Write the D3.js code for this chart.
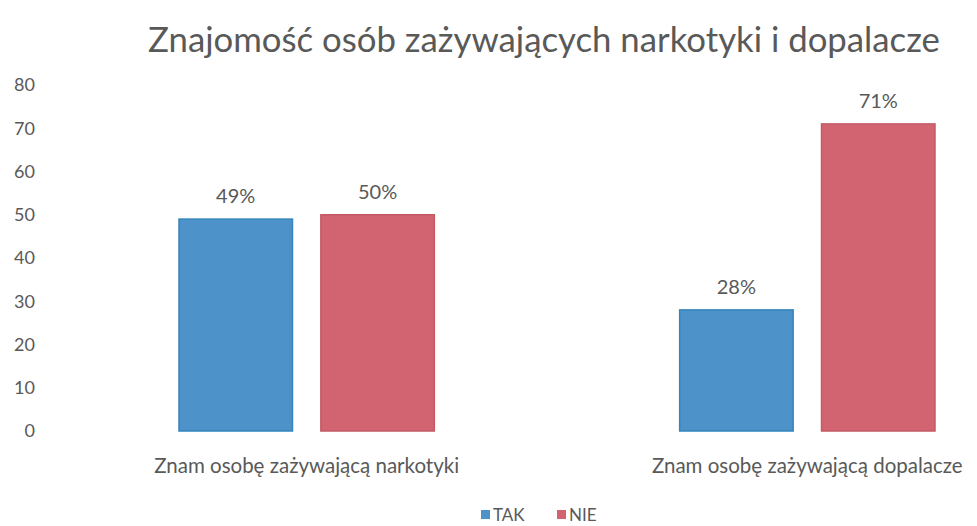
<!DOCTYPE html>
<html>
<head>
<meta charset="utf-8">
<script src="https://cdn.jsdelivr.net/npm/d3@7"></script>
<style>
  body { margin: 0; background: #fff; }
  text { font-family: Lato, "Open Sans", sans-serif; fill: #595959; }
</style>
</head>
<body>
<svg id="chart" width="977" height="526"></svg>
<script>
// data
const categories = ["Znam osobę zażywającą narkotyki", "Znam osobę zażywającą dopalacze"];
const seriesNames = ["TAK", "NIE"];
const tak = [49, 28];
const nie = [50, 71];
const yTicks = [0, 10, 20, 30, 40, 50, 60, 70, 80];
const title = "Znajomość osób zażywających narkotyki i dopalacze";

const colors = { TAK: "#4d93c9", NIE: "#d16470" };
const strokes = { TAK: "#3584bd", NIE: "#c45a66" };

const svg = d3.select("#chart");

const rows = categories.map((c, i) => ({ cat: c, TAK: tak[i], NIE: nie[i] }));

const y = d3.scaleLinear().domain([0, 80]).range([431, 85]);

const x0 = d3.scaleBand()
  .domain(categories)
  .range([179, 935])
  .paddingInner(0.49)
  .paddingOuter(0);

const x1 = d3.scaleBand()
  .domain(seriesNames)
  .range([0, x0.bandwidth()])
  .paddingInner(0.2)
  .paddingOuter(0);

// fit a text node to a target width (Calibri is narrower than what we have)
function fit(sel, base, target) {
  const w = sel.node().getComputedTextLength();
  sel.style("font-size", (base * target / w).toFixed(2) + "px");
}

// title
const t = svg.append("text")
  .attr("x", 544)
  .attr("y", 52)
  .attr("text-anchor", "middle")
  .style("font-size", "30px")
  .text(title);
fit(t, 30, 792);

// y axis labels, no line
const yAxis = d3.axisLeft(y).tickValues(yTicks).tickSize(0).tickPadding(0);
const ya = svg.append("g").attr("transform", "translate(35,0)").call(yAxis);
ya.select(".domain").remove();
ya.selectAll("text")
  .style("font-size", "18px")
  .style("font-family", "Lato, sans-serif")
  .attr("fill", "#595959");

// bars
const groups = svg.append("g").selectAll("g")
  .data(rows)
  .join("g")
  .attr("transform", d => `translate(${x0(d.cat)},0)`);

groups.selectAll("rect")
  .data(d => seriesNames.map(k => ({ key: k, value: d[k] })))
  .join("rect")
  .attr("x", d => x1(d.key))
  .attr("y", d => y(d.value))
  .attr("width", x1.bandwidth())
  .attr("height", d => y(0) - y(d.value))
  .attr("fill", d => colors[d.key])
  .attr("stroke", d => strokes[d.key])
  .attr("stroke-width", 1.5);

groups.selectAll("text.val")
  .data(d => seriesNames.map(k => ({ key: k, value: d[k] })))
  .join("text")
  .attr("class", "val")
  .attr("x", d => x1(d.key) + x1.bandwidth() / 2)
  .attr("y", d => y(d.value) - 16)
  .attr("text-anchor", "middle")
  .style("font-size", "20px")
  .text(d => d.value + "%");

// category labels
svg.append("g").selectAll("text")
  .data(categories)
  .join("text")
  .attr("x", d => x0(d) + x0.bandwidth() / 2)
  .attr("y", 473)
  .attr("text-anchor", "middle")
  .style("font-size", "20.5px")
  .text(d => d);

// legend
const legend = svg.append("g").attr("transform", "translate(481,0)");
const li = legend.selectAll("g")
  .data(seriesNames)
  .join("g")
  .attr("transform", (d, i) => `translate(${i * 76},0)`);
li.append("rect")
  .attr("x", 0)
  .attr("y", 510)
  .attr("width", 9)
  .attr("height", 9)
  .attr("fill", d => colors[d]);
li.append("text")
  .attr("x", 12)
  .attr("y", 521)
  .style("font-size", "17px")
  .text(d => d);
</script>
</body>
</html>
